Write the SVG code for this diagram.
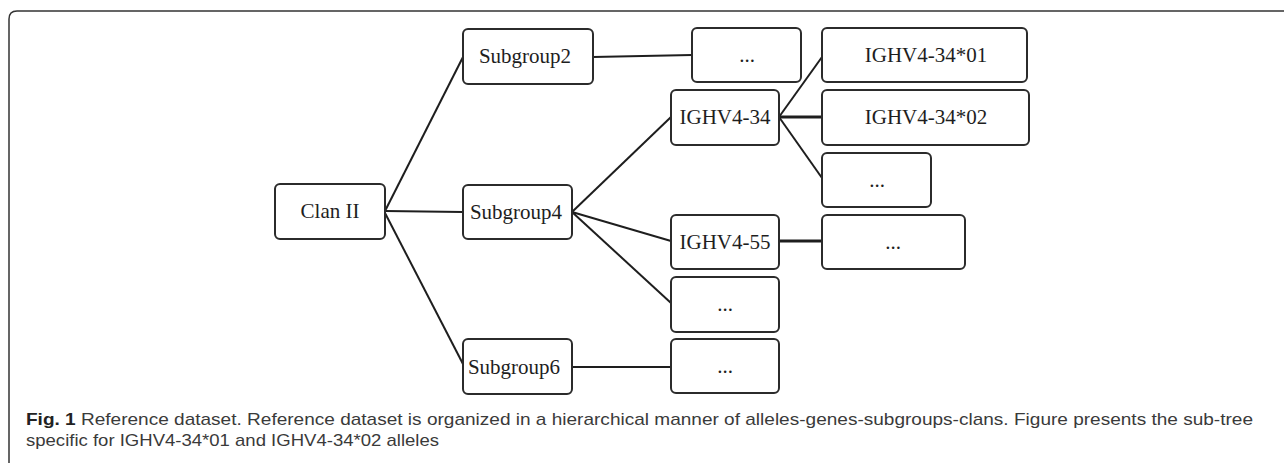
<svg xmlns="http://www.w3.org/2000/svg" width="1284" height="463" viewBox="0 0 1284 463">
<style>
.box{fill:#fff;stroke:#2b2b2b;stroke-width:2}
.lbl{font-family:"Liberation Serif","Times New Roman",serif;font-size:21px;fill:#1e1e1e;text-anchor:middle}
.ln{stroke:#1e1e1e;stroke-width:2;fill:none}
.thk{stroke-width:3}
.cap{font-family:"Liberation Sans",Arial,sans-serif;font-size:17px;fill:#3a3a3a}
</style>
<rect width="1284" height="463" fill="#fff"/>
<path d="M9,463 V19 Q9,11 17,11 H1284" fill="none" stroke="#333" stroke-width="1.5"/>
<g id="connectors">
<line class="ln" x1="385" y1="211" x2="463" y2="57"/>
<line class="ln" x1="385" y1="211" x2="463" y2="212"/>
<line class="ln" x1="385" y1="213" x2="463" y2="364"/>
<line class="ln" x1="593" y1="57" x2="692" y2="55"/>
<line class="ln" x1="572" y1="212" x2="671" y2="117"/>
<line class="ln" x1="572" y1="212" x2="671" y2="241"/>
<line class="ln" x1="572" y1="212" x2="671" y2="303"/>
<line class="ln" x1="572" y1="367" x2="671" y2="367"/>
<line class="ln" x1="779" y1="117" x2="822" y2="57"/>
<line class="ln thk" x1="779" y1="117" x2="822" y2="117"/>
<line class="ln" x1="779" y1="117" x2="822" y2="178"/>
<line class="ln thk" x1="779" y1="241" x2="822" y2="241"/>
</g>
<g id="clan2"><rect class="box" x="275" y="184" width="110" height="55" rx="5"/><text class="lbl" x="330" y="218">Clan II</text></g>
<g id="subgroup2"><rect class="box" x="463" y="29" width="130" height="55" rx="5"/><text class="lbl" x="525" y="63">Subgroup2</text></g>
<g id="subgroup4"><rect class="box" x="463" y="185" width="109" height="54" rx="5"/><text class="lbl" x="516" y="219">Subgroup4</text></g>
<g id="subgroup6"><rect class="box" x="463" y="339" width="109" height="55" rx="5"/><text class="lbl" x="514" y="374">Subgroup6</text></g>
<g id="sg2-more"><rect class="box" x="692" y="28" width="109" height="54" rx="5"/><text class="lbl" x="747" y="62">...</text></g>
<g id="ighv4-34"><rect class="box" x="671" y="90" width="108" height="55" rx="5"/><text class="lbl" x="725" y="124">IGHV4-34</text></g>
<g id="ighv4-55"><rect class="box" x="671" y="215" width="108" height="54" rx="5"/><text class="lbl" x="725" y="249">IGHV4-55</text></g>
<g id="sg4-more"><rect class="box" x="671" y="277" width="108" height="55" rx="5"/><text class="lbl" x="725" y="311">...</text></g>
<g id="sg6-more"><rect class="box" x="671" y="339" width="108" height="54" rx="5"/><text class="lbl" x="725" y="373">...</text></g>
<g id="ighv4-34-01"><rect class="box" x="822" y="28" width="205" height="54" rx="5"/><text class="lbl" x="926" y="62">IGHV4-34*01</text></g>
<g id="ighv4-34-02"><rect class="box" x="822" y="90" width="207" height="55" rx="5"/><text class="lbl" x="926" y="124">IGHV4-34*02</text></g>
<g id="ighv4-34-more"><rect class="box" x="822" y="153" width="109" height="54" rx="5"/><text class="lbl" x="877" y="187">...</text></g>
<g id="ighv4-55-more"><rect class="box" x="822" y="215" width="143" height="54" rx="5"/><text class="lbl" x="893" y="249">...</text></g>
<g id="caption">
<text class="cap" x="26" y="425" textLength="1227" lengthAdjust="spacingAndGlyphs"><tspan font-weight="bold" fill="#222">Fig. 1</tspan> Reference dataset. Reference dataset is organized in a hierarchical manner of alleles-genes-subgroups-clans. Figure presents the sub-tree</text>
<text class="cap" x="26" y="446" textLength="413" lengthAdjust="spacingAndGlyphs">specific for IGHV4-34*01 and IGHV4-34*02 alleles</text>
</g>
</svg>
